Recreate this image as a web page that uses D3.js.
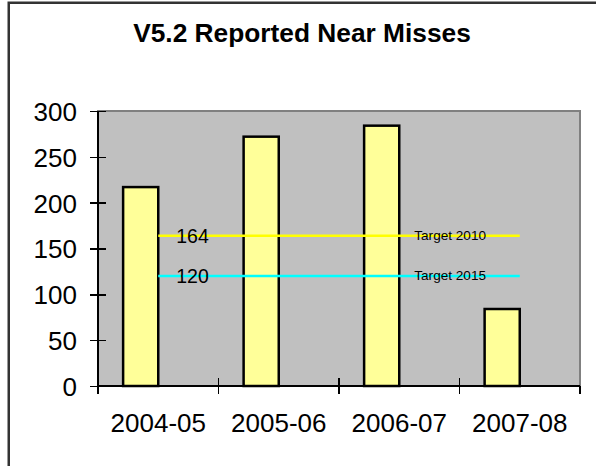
<!DOCTYPE html>
<head>
  <meta charset='utf-8'>
  <style>
    body { margin: 0; background: #fff; }
    svg { font-family: Arial, 'Liberation Sans', sans-serif; display: block; }
    .axis path, .axis line { stroke: #000; stroke-width: 1.5px; shape-rendering: crispEdges; }
    .axis text { font-size: 26px; fill: #000; }
    .bar { fill: #ffff99; stroke: #000; stroke-width: 2.5px; }
    .target { fill: none; stroke-width: 2.5px; }
  </style>
</head>
<body>
<script src='https://cdnjs.cloudflare.com/ajax/libs/d3/7.8.5/d3.min.js'></script>
<script>
    var
        W = 596,
        H = 466,
        plot = {left: 98, right: 580, top: 111, bottom: 386};

    var categories = ['2004-05', '2005-06', '2006-07', '2007-08'],
        nearMisses = [217, 272, 284, 84],
        target2010 = [164, 164, 164, 164],
        target2015 = [120, 120, 120, 120],
        yTicks = [0, 50, 100, 150, 200, 250, 300];

    var targets = [
        {name: 'Target 2010', values: target2010, color: '#ffff00'},
        {name: 'Target 2015', values: target2015, color: '#00ffff'}
    ];

    var x = d3.scaleBand()
            .domain(categories)
            .range([plot.left, plot.right]),
        // second (empty) series keeps the bars left of centre, like the original
        xInner = d3.scaleBand()
            .domain(['Reported', 'spare'])
            .range([0, x.bandwidth()])
            .paddingOuter(0.715),
        y = d3.scaleLinear()
            .domain([0, 300])
            .range([plot.bottom, plot.top]);

    var svg = d3.select('body').append('svg')
        .attr('width', W)
        .attr('height', H);

    // outer chart frame (runs off the right and bottom edges)
    svg.append('rect')
        .attr('x', 8.75).attr('y', 2.75)
        .attr('width', 700).attr('height', 700)
        .attr('fill', 'none')
        .attr('stroke', '#333')
        .attr('stroke-width', 2.5);

    svg.append('text')
        .attr('x', 302)
        .attr('y', 42)
        .attr('text-anchor', 'middle')
        .attr('font-size', 26.3)
        .attr('font-weight', 'bold')
        .text('V5.2 Reported Near Misses');

    // plot area
    svg.append('rect')
        .attr('x', plot.left)
        .attr('y', plot.top)
        .attr('width', plot.right - plot.left)
        .attr('height', plot.bottom - plot.top)
        .attr('fill', '#c0c0c0')
        .attr('stroke', '#808080')
        .attr('stroke-width', 2);

    svg.append('g').selectAll('rect')
        .data(nearMisses)
        .enter().append('rect')
        .attr('class', 'bar')
        .attr('x', function(d, i) { return x(categories[i]) + xInner('Reported'); })
        .attr('y', function(d) { return y(d); })
        .attr('width', xInner.bandwidth())
        .attr('height', function(d) { return y(0) - y(d); });

    var line = d3.line()
        .x(function(d, i) { return x(categories[i]) + x.bandwidth() / 2; })
        .y(function(d) { return y(d); });

    var tg = svg.append('g').selectAll('g')
        .data(targets)
        .enter().append('g');

    tg.append('path')
        .attr('class', 'target')
        .attr('stroke', function(d) { return d.color; })
        .attr('d', function(d) { return line(d.values); });

    // value label at first point, series name at third point
    tg.append('text')
        .attr('x', x(categories[0]) + x.bandwidth() / 2 + 18)
        .attr('y', function(d) { return y(d.values[0]); })
        .attr('dy', '0.36em')
        .attr('font-size', 19.5)
        .text(function(d) { return d.values[0]; });

    tg.append('text')
        .attr('x', x(categories[2]) + x.bandwidth() / 2 + 15)
        .attr('y', function(d) { return y(d.values[2]); })
        .attr('dy', '0.3em')
        .attr('font-size', 13.6)
        .text(function(d) { return d.name; });

    // y axis with crossing ticks
    var yAxis = svg.append('g')
        .attr('class', 'axis')
        .attr('transform', 'translate(' + plot.left + ',0)')
        .call(d3.axisLeft(y).tickValues(yTicks).tickSize(8).tickPadding(13));
    yAxis.select('.domain').attr('d', 'M0,' + plot.top + 'V' + plot.bottom);
    yAxis.selectAll('.tick line').attr('x1', 8);
    yAxis.selectAll('.tick text').attr('dy', '0.36em');

    // x axis: labels at band centres, ticks at band edges
    var xAxis = svg.append('g')
        .attr('class', 'axis')
        .attr('transform', 'translate(0,' + plot.bottom + ')')
        .call(d3.axisBottom(x).tickSize(0).tickPadding(28));
    xAxis.select('.domain').attr('d', 'M' + plot.left + ',0H' + plot.right);
    xAxis.selectAll('.tick text').attr('dy', '0.71em');

    var edges = categories.map(function(c) { return x(c); }).concat([x.range()[1]]);
    xAxis.selectAll('.edge')
        .data(edges)
        .enter().append('line')
        .attr('class', 'edge')
        .attr('x1', function(d) { return d; })
        .attr('x2', function(d) { return d; })
        .attr('y1', function(d, i) { return (i === 0 || i === edges.length - 1) ? 0 : -8; })
        .attr('y2', 8);
</script>
</body>
